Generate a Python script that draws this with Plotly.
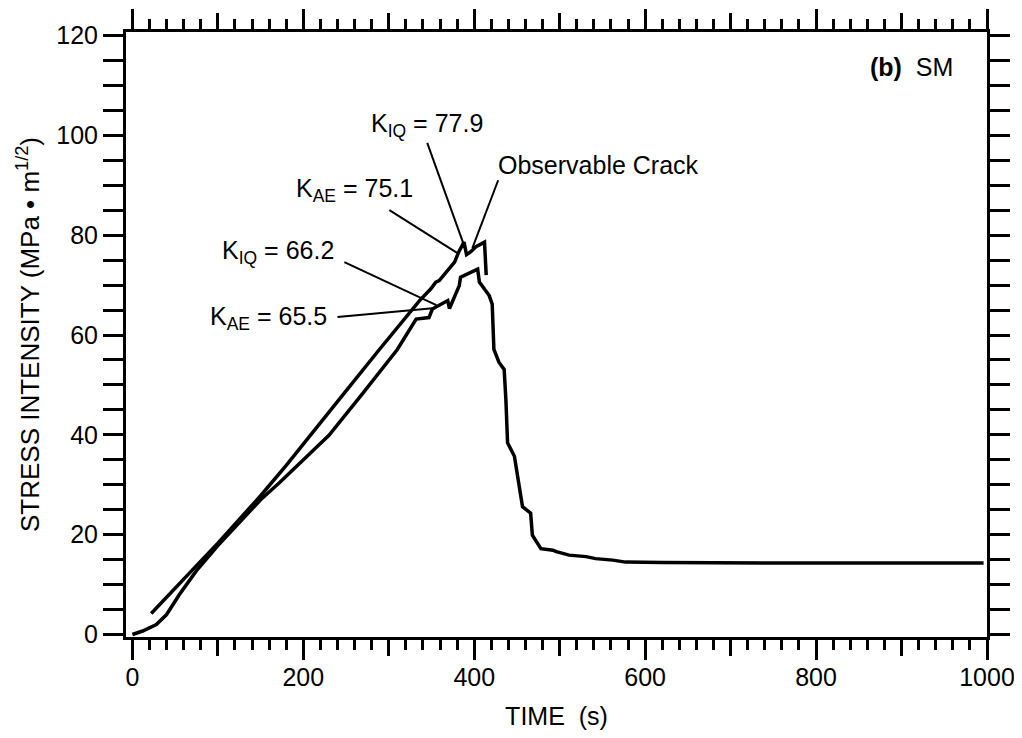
import plotly.graph_objects as go

# ---- data ----
time_a = [22, 35, 50, 75, 100, 125, 150, 180, 211, 250, 289, 336, 349, 355, 359, 371, 377, 382, 388, 391, 396, 402, 412, 414]
k_a = [4.2, 6.6, 9.3, 13.8, 18.3, 23.0, 27.8, 33.9, 40.6, 48.8, 57.1, 66.9, 69.2, 70.6, 70.9, 73.2, 74.6, 76.7, 78.6, 76.1, 76.7, 77.7, 78.6, 72.0]

time_b = [0, 12, 28, 40, 55, 75, 100, 125, 150, 172, 200, 230, 270, 310, 332, 347, 351, 369, 371, 375, 382.5, 384,
          396, 404, 406, 417.5, 421, 423, 429, 435, 437, 439, 447, 453, 456.5, 466, 468, 478, 492, 496, 511, 531,
          542, 562, 577, 620, 700, 800, 900, 996]
k_b = [0, 0.7, 2.0, 4.0, 8.0, 12.8, 17.8, 22.5, 27.0, 30.4, 35.0, 39.9, 48.4, 57.1, 63.2, 63.5, 65.2, 66.9, 65.3, 66.9, 69.9, 71.6,
       72.6, 73.2, 70.6, 67.9, 66.2, 57.1, 54.5, 53.1, 47.1, 38.4, 35.7, 29.6, 25.6, 24.3, 19.9, 17.2, 16.9, 16.6, 15.9, 15.6,
       15.2, 14.9, 14.5, 14.4, 14.3, 14.3, 14.3, 14.3]

label_texts = ["K<sub>IQ</sub> = 77.9", "Observable Crack", "K<sub>AE</sub> = 75.1",
               "K<sub>IQ</sub> = 66.2", "K<sub>AE</sub> = 65.5"]
label_x = [277, 426, 189.5, 102, 88]
label_y = [102.1, 94.1, 89.0, 76.6, 63.4]
leader_x0 = [345, 428, 300.7, 248, 240]
leader_y0 = [98.5, 91.0, 85.0, 74.6, 63.6]
leader_x1 = [388.4, 397.8, 380.4, 355.7, 354.5]
leader_y1 = [77.8, 77.4, 76.4, 66.0, 65.4]

x_hundreds = [0, 100, 200, 300, 400, 500, 600, 700, 800, 900, 1000]
x_major = [0, 200, 400, 600, 800, 1000]
y_major = [0, 20, 40, 60, 80, 100, 120]

x_range = [-7.5, 1000]
y_range = [-0.5, 120.7]

FONT = "Liberation Sans, Arial, Helvetica, sans-serif"
FS = 25

fig = go.Figure()
fig.add_trace(go.Scatter(x=time_b, y=k_b, mode="lines", line=dict(color="black", width=3.5), showlegend=False))
fig.add_trace(go.Scatter(x=time_a, y=k_a, mode="lines", line=dict(color="black", width=3.5), showlegend=False))
# invisible trace that activates the long-tick overlay axis
fig.add_trace(go.Scatter(x=[500], y=[60], xaxis="x2", mode="markers",
                         marker=dict(opacity=0), showlegend=False, hoverinfo="skip"))

for x0, y0, x1, y1 in zip(leader_x0, leader_y0, leader_x1, leader_y1):
    fig.add_shape(type="line", x0=x0, y0=y0, x1=x1, y1=y1, xref="x", yref="y",
                  line=dict(color="black", width=2))

for t, x, y in zip(label_texts, label_x, label_y):
    fig.add_annotation(x=x, y=y, text=t, showarrow=False, xanchor="left", yanchor="middle",
                       font=dict(family=FONT, size=FS, color="black"))

fig.add_annotation(x=963, y=113.7, text="<b>(b)</b>  SM", showarrow=False, xanchor="right",
                   yanchor="middle", font=dict(family=FONT, size=FS, color="black"))

axis_common = dict(showline=True, linecolor="black", linewidth=3, mirror="allticks", ticks="outside",
                   tickcolor="black", tickwidth=2.5, showgrid=False, zeroline=False, automargin=False,
                   tickfont=dict(family=FONT, size=FS, color="black"))

fig.update_layout(
    width=1014, height=730,
    margin=dict(l=118, r=35, t=24, b=101, autoexpand=False),
    paper_bgcolor="white", plot_bgcolor="white",
    xaxis=dict(range=x_range, tickvals=x_hundreds,
               ticktext=[str(v) if v in x_major else "" for v in x_hundreds], ticklen=16,
               minor=dict(dtick=20, tick0=0, ticks="outside", ticklen=10, tickwidth=2.5, tickcolor="black"),
               title=dict(text="TIME  (s)", font=dict(family=FONT, size=FS, color="black"), standoff=18),
               **axis_common),
    xaxis2=dict(range=x_range, overlaying="x", anchor="y", side="bottom", tickvals=x_major,
                showticklabels=False, ticks="outside", ticklen=20, tickwidth=2.5, tickcolor="black",
                showline=True, linecolor="black", linewidth=3, mirror="allticks", automargin=False,
                showgrid=False, zeroline=False),
    yaxis=dict(range=y_range, tickvals=y_major, ticktext=[str(v) for v in y_major], ticklen=20,
               minor=dict(dtick=5, tick0=0, ticks="outside", ticklen=10, tickwidth=2.5, tickcolor="black"),
               title=dict(text="STRESS INTENSITY (MPa \u2022 m<sup>1/2</sup>)",
                          font=dict(family=FONT, size=26, color="black"), standoff=10),
               **axis_common),
)

fig.write_html("out.html")
